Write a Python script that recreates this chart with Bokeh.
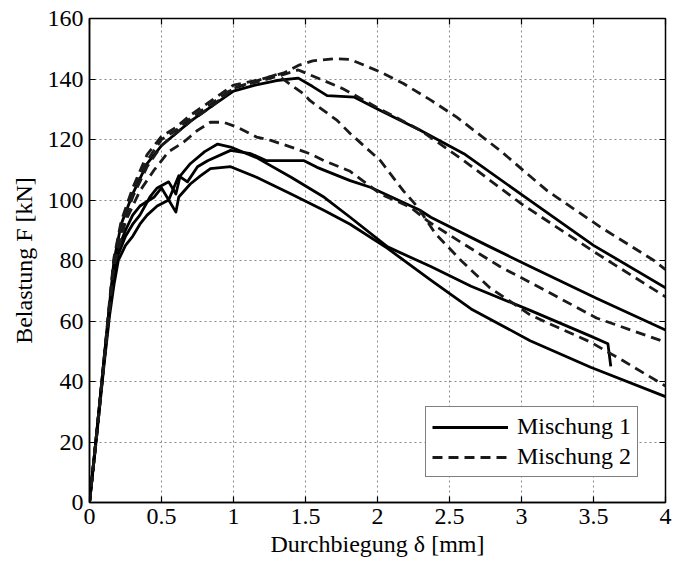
from bokeh.plotting import figure
from bokeh.models import FixedTicker, LinearAxis, Legend, LegendItem, Range1d
from bokeh.embed import file_html
from bokeh.resources import INLINE

# ---------------- data ----------------
x_ticks = [0, 0.5, 1, 1.5, 2, 2.5, 3, 3.5, 4]
y_ticks = [0, 20, 40, 60, 80, 100, 120, 140, 160]
x_label = "Durchbiegung δ [mm]"
y_label = "Belastung F [kN]"
series_names = ["Mischung 1", "Mischung 2"]

# Mischung 1 (solid)
s1_x = [0, 0.05, 0.1, 0.14, 0.17, 0.2, 0.25, 0.3, 0.35, 0.4, 0.47, 0.55, 0.6, 0.62, 0.7, 0.77, 0.84, 0.98, 1.16,
        1.4, 1.63, 1.81, 2.07, 2.37, 2.65, 3.06, 3.48, 4.0]
s1_y = [0, 22, 45, 62, 72, 80, 85, 88, 92, 95, 98, 100, 96, 101, 105.3, 108, 110.4, 111, 107.5,
        102, 96.5, 92, 84, 73.5, 64, 53.5, 44.7, 35]
s2_x = [0, 0.05, 0.1, 0.14, 0.17, 0.2, 0.25, 0.3, 0.35, 0.42, 0.47, 0.55, 0.6, 0.63, 0.7, 0.8, 0.89, 0.98, 1.16,
        1.4, 1.63, 1.81, 2.07, 2.37, 2.65, 3.06, 3.48, 3.6, 3.62]
s2_y = [0, 23, 46, 64, 76, 82, 88, 92, 95, 101, 104, 106, 102, 108, 112, 116, 118.5, 117.5, 114,
        107.5, 100.9, 94.3, 84.5, 78, 71.5, 63.5, 55, 52.5, 45]
s3_x = [0, 0.05, 0.1, 0.14, 0.17, 0.2, 0.25, 0.3, 0.35, 0.45, 0.5, 0.55, 0.62, 0.68, 0.75, 0.82, 0.98, 1.12, 1.23,
        1.49, 1.58, 1.81, 1.95, 2.3, 2.37, 2.76, 3.06, 3.52, 4.0]
s3_y = [0, 23, 47, 65, 77, 84, 90, 95, 98, 101, 104, 100, 108, 106, 111, 113, 116.4, 115.3, 113,
        113, 110.8, 106.4, 104.2, 96.5, 94.3, 85, 78, 67.5, 57]
s4_x = [0, 0.05, 0.1, 0.14, 0.17, 0.22, 0.3, 0.4, 0.5, 0.6, 0.7, 0.85, 1.0, 1.15, 1.3, 1.45,
        1.55, 1.65, 1.84, 2.02, 2.3, 2.6, 3.06, 3.5, 4.0]
s4_y = [0, 23, 47, 66, 80, 92, 102, 112, 118, 122, 126, 131, 136, 138, 139.5, 140.3,
        137.5, 134.5, 134, 129.6, 123, 115.3, 99.8, 85, 71]

# Mischung 2 (dashed)
d1_x = [0, 0.05, 0.1, 0.14, 0.17, 0.22, 0.3, 0.4, 0.5, 0.6, 0.7, 0.85, 1.0, 1.2, 1.35, 1.45,
        1.55, 1.7, 1.81, 2.02, 2.18, 2.37, 2.55, 2.85, 3.18, 3.55, 3.92, 4.0]
d1_y = [0, 23, 47, 67, 81, 93, 104, 115, 121, 124, 128, 133, 138, 140, 142, 144.5,
        146, 146.7, 146.5, 142.3, 138.5, 133, 127.4, 116.4, 103, 91, 80, 77]
d2_x = [0, 0.05, 0.1, 0.14, 0.17, 0.22, 0.3, 0.4, 0.5, 0.6, 0.7, 0.85, 1.0, 1.2, 1.35, 1.45,
        1.6, 1.76, 2.0, 2.3, 2.6, 3.0, 3.5, 4.0]
d2_y = [0, 23, 46, 66, 80, 91, 103, 113, 120, 123, 127, 132, 137, 139.5, 141.5, 143,
        140, 136.8, 130.5, 123, 113, 98.7, 83, 68]
d3_x = [0, 0.05, 0.1, 0.14, 0.17, 0.22, 0.3, 0.4, 0.5, 0.6, 0.7, 0.85, 1.0, 1.2, 1.3, 1.4, 1.49,
        1.53, 1.72, 1.81, 2.02, 2.18, 2.28, 2.4, 2.58, 2.78, 2.95, 3.06, 3.48, 3.7, 4.0]
d3_y = [0, 22, 46, 65, 79, 90, 101, 111, 118, 122, 126, 131, 137, 140, 141.5, 138, 135,
        132.9, 126.3, 122, 113, 103, 97.6, 89, 80, 71, 65.6, 62, 53, 47, 38.5]
d4_x = [0, 0.05, 0.1, 0.14, 0.17, 0.25, 0.35, 0.45, 0.55, 0.65, 0.7, 0.75, 0.84, 0.93, 1.03, 1.16,
        1.26, 1.4, 1.53, 1.63, 1.81, 2.02, 2.23, 2.35, 2.58, 2.85, 3.13, 3.52, 4.0]
d4_y = [0, 22, 46, 64, 78, 93, 103, 110, 116, 119, 121, 123, 125.7, 125.7, 124, 120.8,
        119.7, 117.5, 115.3, 113, 109.5, 102, 97.6, 93, 86, 78, 71, 61, 53]

solid_series = [(s1_x, s1_y), (s2_x, s2_y), (s3_x, s3_y), (s4_x, s4_y)]
dashed_series = [(d1_x, d1_y), (d2_x, d2_y), (d3_x, d3_y), (d4_x, d4_y)]

# ---------------- figure ----------------
FONT = "Liberation Serif"

p = figure(width=680, height=560, output_backend="svg", toolbar_location=None,
           x_range=Range1d(0, 4), y_range=Range1d(0, 160),
           min_border_left=89, min_border_right=15, min_border_top=18, min_border_bottom=58)
p.background_fill_color = "white"
p.border_fill_color = "white"
p.outline_line_color = "black"
p.outline_line_width = 1.5

for ax in p.xaxis + p.yaxis:
    ax.major_label_text_font = FONT
    ax.major_label_text_font_size = "24px"
    ax.major_label_text_color = "black"
    ax.axis_label_text_font = FONT
    ax.axis_label_text_font_size = "24px"
    ax.axis_label_text_font_style = "normal"
    ax.axis_label_text_color = "black"
    ax.major_tick_in = 6
    ax.major_tick_out = 0
    ax.minor_tick_line_color = None
    ax.axis_line_color = "black"
    ax.axis_line_width = 1.5
    ax.major_tick_line_color = "black"
    ax.major_tick_line_width = 1.2

p.xaxis.ticker = FixedTicker(ticks=x_ticks)
p.yaxis.ticker = FixedTicker(ticks=y_ticks)
p.xaxis.axis_label = x_label
p.yaxis.axis_label = y_label
p.xaxis.major_label_standoff = 6
p.yaxis.major_label_standoff = 6
p.xaxis.axis_label_standoff = 4
p.yaxis.axis_label_standoff = 8

# top / right box ticks (no labels)
top = LinearAxis(ticker=FixedTicker(ticks=x_ticks), major_label_text_color=None,
                 major_label_text_font_size="1px",
                 major_label_standoff=0, major_tick_in=6, major_tick_out=0,
                 major_tick_line_width=1.2,
                 minor_tick_line_color=None, axis_line_color=None)
right = LinearAxis(ticker=FixedTicker(ticks=y_ticks), major_label_text_color=None,
                   major_label_text_font_size="1px",
                   major_label_standoff=0, major_tick_in=6, major_tick_out=0,
                   major_tick_line_width=1.2,
                   minor_tick_line_color=None, axis_line_color=None)
p.add_layout(top, "above")
p.add_layout(right, "right")

p.xgrid.ticker = FixedTicker(ticks=x_ticks)
p.ygrid.ticker = FixedTicker(ticks=y_ticks)
p.grid.grid_line_color = "#8a8a8a"
p.grid.grid_line_dash = "2 3"
p.grid.grid_line_width = 1

solid_renderers = []
for xs, ys in solid_series:
    r = p.line(xs, ys, line_color="black", line_width=2.8, line_join="round")
    solid_renderers.append(r)
dashed_renderers = []
for xs, ys in dashed_series:
    r = p.line(xs, ys, line_color="#1a1a1a", line_width=2.8, line_dash="10 6")
    dashed_renderers.append(r)

legend = Legend(items=[LegendItem(label=series_names[0], renderers=[solid_renderers[0]]),
                       LegendItem(label=series_names[1], renderers=[dashed_renderers[0]])],
                location=(336, 25))
legend.label_text_font = FONT
legend.label_text_font_size = "24px"
legend.label_text_color = "black"
legend.glyph_width = 76
legend.glyph_height = 24
legend.label_standoff = 9
legend.label_height = 24
legend.spacing = 3
legend.padding = 6
legend.margin = 0
legend.border_line_color = "black"
legend.border_line_width = 1.5
legend.background_fill_alpha = 1
p.add_layout(legend, "center")

open("out.html", "w").write(file_html(p, INLINE))
